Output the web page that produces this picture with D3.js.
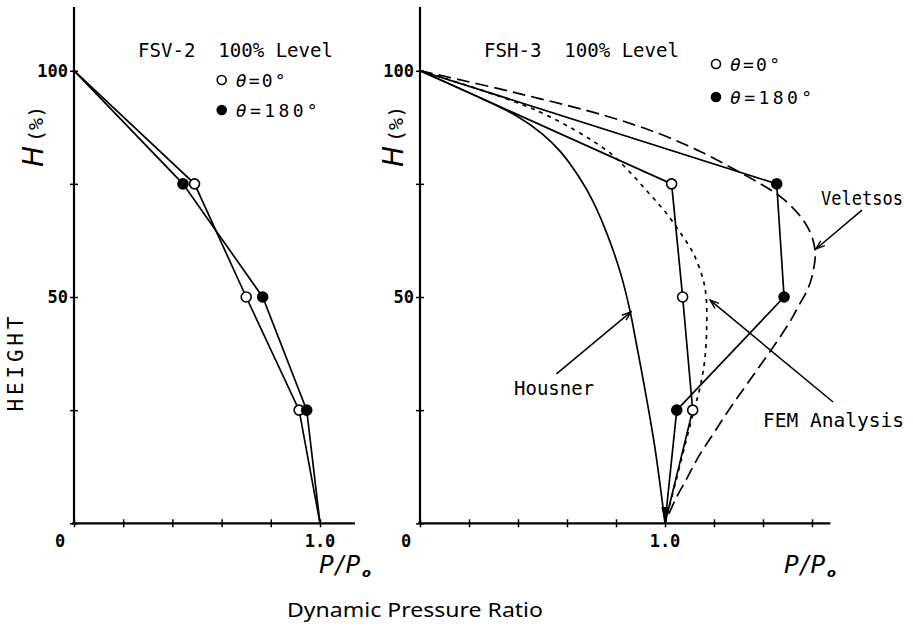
<!DOCTYPE html>
<html><head><meta charset="utf-8">
<script src="https://cdn.jsdelivr.net/npm/d3@7"></script>
<style>body{margin:0;background:#fff}svg{display:block}</style></head>
<body><svg id="c" width="913" height="628"></svg>
<script>
// ---------- data ----------
const heights = [100, 75, 50, 25, 0];
const fsv2Open = [0, 0.49, 0.70, 0.915, 1.0];
const fsv2Filled = [0, 0.443, 0.767, 0.946, 1.0];
const fsh3Open = [0, 1.027, 1.072, 1.113, 1.0];
const fsh3Filled = [0, 1.456, 1.486, 1.048, 1.0];

const housnerH = [100, 95, 90, 86, 82, 76, 71, 63, 55, 47, 40, 32, 17, 0];
const housnerP = [0, 0.205, 0.395, 0.5, 0.575, 0.655, 0.707, 0.77, 0.82, 0.857, 0.882, 0.91, 0.958, 1.0];

const femH = [100, 91.2, 82.4, 78.3, 73.5, 68.4, 63.2, 59.6, 54, 50, 43, 36, 30.5, 25.7, 18, 9, 0];
const femP = [0, 0.476, 0.762, 0.844, 0.925, 1.007, 1.075, 1.116, 1.155, 1.168, 1.17, 1.162, 1.145, 1.122, 1.085, 1.043, 1.0];

const velH = [100, 95, 90, 86, 82, 78, 75, 72, 68, 64, 60, 56, 52, 48, 45, 40, 35, 30, 25, 20, 15, 10, 5, 0];
const velP = [0, 0.4, 0.76, 0.98, 1.15, 1.29, 1.39, 1.475, 1.55, 1.595, 1.613, 1.606, 1.585, 1.545, 1.515, 1.455, 1.39, 1.325, 1.26, 1.2, 1.14, 1.09, 1.04, 1.0];

const yTicks = [0, 25, 50, 75, 100];
const yTickLabels = ["100", "50"];
const xTicksLeft = [0, 0.2, 0.4, 0.6, 0.8, 1.0];
const xTicksRight = [0, 0.2, 0.4, 0.6, 0.8, 1.0, 1.2, 1.4, 1.6];
const xTickLabels = ["0", "1.0"];

const titles = ["FSV-2  100% Level", "FSH-3  100% Level"];
const legendLabels = ["=0°", "=180°"];

// ---------- layout ----------
const svg = d3.select("#c");
const mono = "DejaVu Sans Mono";
const y = d3.scaleLinear().domain([0, 100]).range([523.3, 70.7]);
const xL = d3.scaleLinear().domain([0, 1]).range([74, 320]);
const xR = d3.scaleLinear().domain([0, 1]).range([420, 665]);

svg.append("defs").append("marker")
  .attr("id", "arr").attr("viewBox", "-10 -5 12 10")
  .attr("refX", 0).attr("refY", 0)
  .attr("markerWidth", 12).attr("markerHeight", 10)
  .attr("markerUnits", "userSpaceOnUse").attr("orient", "auto")
  .append("path").attr("d", "M-9,-3.2 L0,0 L-9,3.2").attr("fill", "none")
  .attr("stroke", "#000").attr("stroke-width", 1.4);

function panel(x, xTicks, xMax, opts) {
  const g = svg.append("g");
  g.append("line").attr("x1", x(0)).attr("x2", x(0)).attr("y1", y(0)).attr("y2", y(114.1))
    .attr("stroke", "#000").attr("stroke-width", 2.2);
  g.append("line").attr("x1", x(0) - 2).attr("x2", x(xMax)).attr("y1", y(0)).attr("y2", y(0))
    .attr("stroke", "#000").attr("stroke-width", 2.2);
  const ax = g.append("g").attr("transform", `translate(0,${y(0)})`)
    .call(d3.axisBottom(x).tickValues(xTicks).tickFormat("").tickSizeOuter(0));
  ax.select(".domain").remove();
  ax.selectAll(".tick line").attr("y1", -4).attr("y2", 4).attr("stroke-width", 1.5);
  const ay = g.append("g").attr("transform", `translate(${x(0)},0)`)
    .call(d3.axisLeft(y).tickValues(yTicks).tickFormat("").tickSizeOuter(0));
  ay.select(".domain").remove();
  ay.selectAll(".tick line").attr("x1", -4).attr("x2", 4).attr("stroke-width", 1.5);
  g.selectAll(".ylab").data(yTickLabels).enter().append("text")
    .attr("x", x(0) - 6).attr("y", d => y(+d) + 6)
    .attr("text-anchor", "end").attr("font-family", mono).attr("font-size", 17)
    .attr("font-weight", "bold")
    .text(d => d);
  g.append("text").attr("x", x(0) - 14).attr("y", 547).attr("text-anchor", "middle")
    .attr("font-family", mono).attr("font-size", 17).attr("font-weight", "bold").text(xTickLabels[0]);
  g.append("text").attr("x", x(1)).attr("y", 547).attr("text-anchor", "middle")
    .attr("font-family", mono).attr("font-size", 17).attr("font-weight", "bold").text(xTickLabels[1]);
  const pp = g.append("text").attr("x", opts.ppX).attr("y", 573)
    .attr("font-family", "DejaVu Sans").attr("font-style", "oblique").attr("font-size", 24)
    .attr("letter-spacing", 2);
  pp.append("tspan").text("P/P");
  pp.append("tspan").attr("font-size", 13).attr("dy", 4).attr("font-weight", "bold").text("o");
  const ht = g.append("text").attr("transform", `translate(${opts.hX},167) rotate(-90)`)
    .attr("font-family", "DejaVu Sans");
  ht.append("tspan").attr("font-style", "oblique").attr("font-size", 28).text("H");
  ht.append("tspan").attr("font-size", 20).attr("font-family", mono).attr("dx", 4).text("(%)");
  g.append("text").attr("x", opts.titleX).attr("y", 57).attr("font-family", mono)
    .attr("font-size", 19).style("white-space", "pre")
    .attr("textLength", 195).attr("lengthAdjust", "spacingAndGlyphs").text(opts.title);
  opts.legY.forEach((ly, i) => {
    g.append("circle").attr("cx", opts.legX).attr("cy", ly).attr("r", 4.5)
      .attr("fill", i ? "#000" : "#fff").attr("stroke", "#000").attr("stroke-width", 1.6);
    const t = g.append("text").attr("x", opts.legX + 14).attr("y", ly + 6.5)
      .attr("font-family", mono).attr("font-size", 18)
      .attr("textLength", i ? 82 : 50).attr("lengthAdjust", "spacing");
    t.append("tspan").attr("font-style", "italic").text("θ");
    t.append("tspan").text(legendLabels[i]);
  });
  return g;
}

const gL = panel(xL, xTicksLeft, 1.142, {ppX: 319, hX: 43, titleX: 138, title: titles[0], legX: 221.7, legY: [80, 110]});
const gR = panel(xR, xTicksRight, 1.675, {ppX: 784, hX: 403, titleX: 484, title: titles[1], legX: 716, legY: [64, 97]});

svg.append("text").attr("transform", `translate(23,364) rotate(-90)`)
  .attr("text-anchor", "middle").attr("font-family", mono).attr("font-size", 21)
  .attr("textLength", 95).attr("lengthAdjust", "spacing").text("HEIGHT");

svg.append("text").attr("x", 287).attr("y", 617).attr("font-family", "Noto Sans")
  .attr("font-size", 19).attr("textLength", 256).attr("lengthAdjust", "spacingAndGlyphs")
  .text("Dynamic Pressure Ratio");

// ---------- series ----------
function drawSeries(g, x, P, H) {
  const pts = H.map((h, i) => [P[i], h]);
  g.append("path").datum(pts)
    .attr("d", d3.line().x(d => x(d[0])).y(d => y(d[1])))
    .attr("fill", "none").attr("stroke", "#000").attr("stroke-width", 1.7);
  return pts;
}
function drawDots(g, x, pts, filled) {
  g.selectAll(null).data(pts.slice(1, 4)).enter().append("circle")
    .attr("cx", d => x(d[0])).attr("cy", d => y(d[1])).attr("r", 5)
    .attr("fill", filled ? "#000" : "#fff").attr("stroke", "#000").attr("stroke-width", 1.6);
}
function drawCurve(g, x, P, H, dash) {
  const pts = H.map((h, i) => [P[i], h]);
  g.append("path").datum(pts)
    .attr("d", d3.line().x(d => x(d[0])).y(d => y(d[1])).curve(d3.curveCatmullRom.alpha(0.5)))
    .attr("fill", "none").attr("stroke", "#000").attr("stroke-width", 1.7)
    .attr("stroke-dasharray", dash);
}

drawCurve(gR, xR, housnerP, housnerH, null);
drawCurve(gR, xR, femP, femH, "4,5");
drawCurve(gR, xR, velP, velH, "13,6");

const lo = drawSeries(gL, xL, fsv2Open, heights);
const lf = drawSeries(gL, xL, fsv2Filled, heights);
const ro = drawSeries(gR, xR, fsh3Open, heights);
const rf = drawSeries(gR, xR, fsh3Filled, heights);
drawDots(gL, xL, lo, false);
drawDots(gL, xL, lf, true);
drawDots(gR, xR, ro, false);
drawDots(gR, xR, rf, true);

gR.append("path")
  .attr("d", `M${xR(0.985)},${y(3.6)} L${xR(1.0)},${y(0.4)} L${xR(1.015)},${y(3.6)} Z`)
  .attr("fill", "#000");

// ---------- annotations ----------
const notes = [
  {label: "Veletsos", tx: 1.637, ty: 70.3, len: 82, from: [1.804, 69.2], to: [1.616, 60.6]},
  {label: "FEM Analysis", tx: 1.4, ty: 21.3, len: 141, from: [1.686, 26.8], to: [1.184, 49.3]},
  {label: "Housner", tx: 0.384, ty: 28.3, len: 80, from: [0.557, 33.0], to: [0.861, 46.7]}
];
notes.forEach(n => {
  gR.append("line").attr("x1", xR(n.from[0])).attr("y1", y(n.from[1]))
    .attr("x2", xR(n.to[0])).attr("y2", y(n.to[1]))
    .attr("stroke", "#000").attr("stroke-width", 1.5).attr("marker-end", "url(#arr)");
  gR.append("text").attr("x", xR(n.tx)).attr("y", y(n.ty)).attr("font-family", mono)
    .attr("font-size", 19).attr("textLength", n.len).attr("lengthAdjust", "spacingAndGlyphs")
    .text(n.label);
});
</script>
</body></html>
